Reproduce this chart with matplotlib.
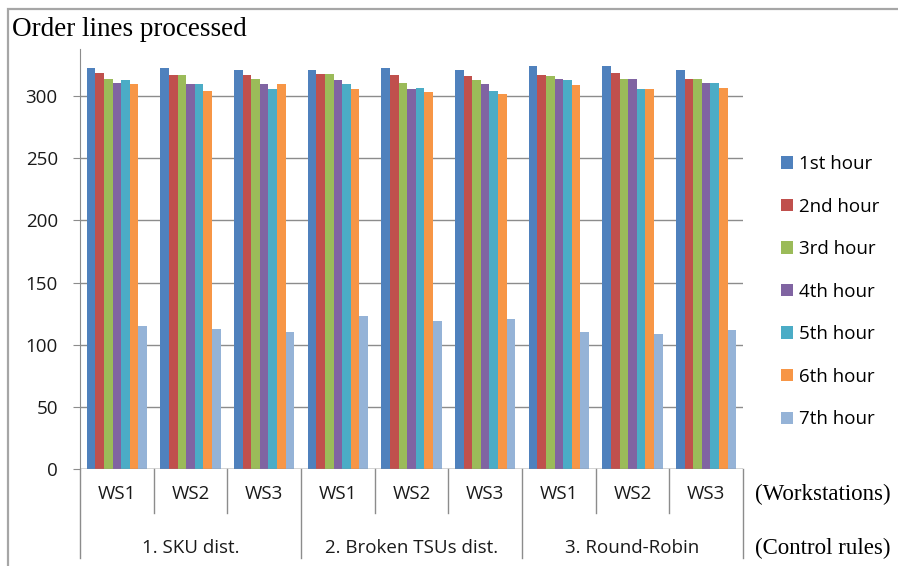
import matplotlib.pyplot as plt
import matplotlib.transforms as mtransforms
from matplotlib.lines import Line2D
from matplotlib.patches import Rectangle
import numpy as np

workstations = ["WS1", "WS2", "WS3"] * 3
rules = ["1. SKU dist.", "2. Broken TSUs dist.", "3. Round-Robin"]
hours = ["1st hour", "2nd hour", "3rd hour", "4th hour", "5th hour", "6th hour", "7th hour"]

# order lines processed per hour, one list per hour, 9 workstation/rule columns
h1 = [323, 323, 321, 321, 323, 321, 324, 324, 321]
h2 = [319, 317, 317, 318, 317, 316, 317, 319, 314]
h3 = [314, 317, 314, 318, 311, 313, 316, 314, 314]
h4 = [311, 310, 310, 313, 306, 310, 314, 314, 311]
h5 = [313, 310, 306, 310, 307, 304, 313, 306, 311]
h6 = [310, 304, 310, 306, 303, 302, 309, 306, 307]
h7 = [115, 113, 110, 123, 119, 121, 110, 109, 112]
series = [h1, h2, h3, h4, h5, h6, h7]

colors = ["#4F81BD", "#C0504D", "#9BBB59", "#8064A2", "#4BACC6", "#F79646", "#95B3D7"]

plt.rcParams['font.family'] = ['Open Sans', 'DejaVu Sans']
serif = 'Liberation Serif'
fs = 13.5
txt = "#1a1a1a"
axis_grey = "#8c8c8c"

fig = plt.figure(figsize=(8.98, 5.66), dpi=100)
fig.patches.append(Rectangle((8 / 898, -0.5), 2, 1.5 - 9 / 566, transform=fig.transFigure,
                             fill=False, edgecolor="#a6a6a6", linewidth=1.6))

ax = fig.add_axes([80 / 898, 1 - 469 / 566, (743 - 80) / 898, (469 - 49) / 566])

x = np.arange(len(workstations))
w = 0.117
for i, (vals, c, lab) in enumerate(zip(series, colors, hours)):
    ax.bar(x + (i - 3) * w, vals, w, color=c, label=lab, zorder=3)

ax.set_xlim(-0.5, 8.5)
ax.set_ylim(0, 338)
ax.set_yticks(np.arange(0, 301, 50))
ax.yaxis.grid(True, color=axis_grey, linewidth=1)
ax.tick_params(axis='y', length=5, color=axis_grey, pad=11, labelsize=fs, labelcolor=txt)
ax.tick_params(axis='x', length=0, labelbottom=False)
for s in ["top", "right", "bottom"]:
    ax.spines[s].set_visible(False)
ax.spines["left"].set_color(axis_grey)
ax.axhline(0, color=axis_grey, linewidth=1, zorder=4)

# two-level category axis below the bars
trans = mtransforms.blended_transform_factory(ax.transData, ax.transAxes)
ws_bottom = (469 - 513) / 420
rule_bottom = (469 - 558) / 420
for b in np.arange(-0.5, 9, 1):
    low = rule_bottom if b in (-0.5, 2.5, 5.5, 8.5) else ws_bottom
    ax.add_line(Line2D([b, b], [0, low], transform=trans, color=axis_grey,
                       linewidth=1, clip_on=False))
for xi, name in zip(x, workstations):
    ax.text(xi, (469 - 494) / 420, name, transform=trans, ha='center', va='center',
            fontsize=fs, color=txt)
for gi, name in enumerate(rules):
    ax.text(gi * 3 + 1, (469 - 548) / 420, name, transform=trans, ha='center', va='center',
            fontsize=fs, color=txt)

fig.text(755 / 898, 1 - 494 / 566, "(Workstations)", family=serif, fontsize=16.5,
         ha='left', va='center')
fig.text(755 / 898, 1 - 548 / 566, "(Control rules)", family=serif, fontsize=16.5,
         ha='left', va='center')
fig.text(12 / 898, 1 - 30 / 566, "Order lines processed", family=serif, fontsize=19.5,
         ha='left', va='center')

fig.legend(loc='upper left', bbox_to_anchor=(781 / 898, 1 - 155 / 566), frameon=False,
           fontsize=fs, handlelength=0.65, handleheight=0.65, handletextpad=0.3,
           labelspacing=1.31, borderpad=0, borderaxespad=0)

fig.savefig("out.png", dpi=100)
